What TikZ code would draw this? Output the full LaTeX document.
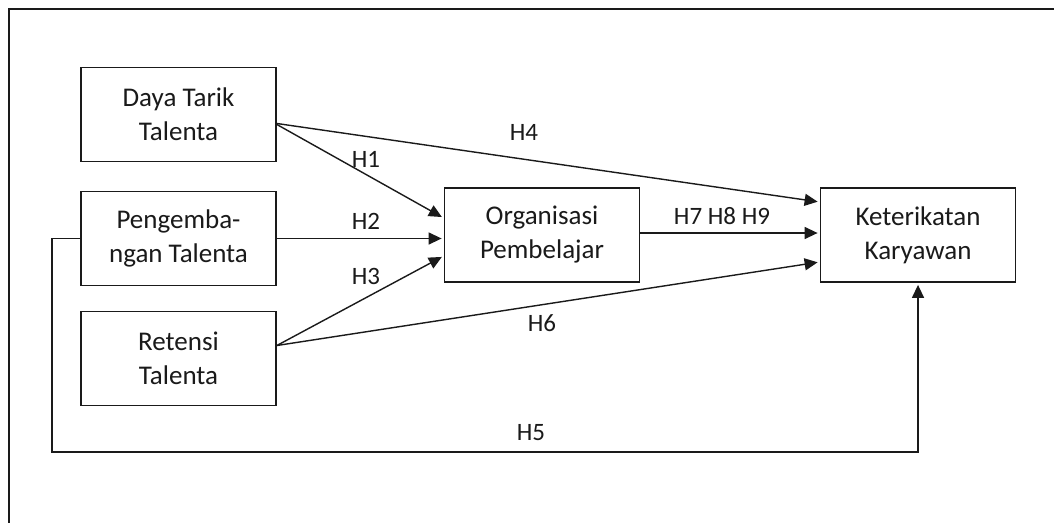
\documentclass[tikz,border=0pt]{standalone}
\usepackage{fontspec}
\setmainfont{Carlito}
\usetikzlibrary{arrows.meta,calc}
\definecolor{ink}{HTML}{1A1A1A}
\tikzset{
  box/.style={draw=ink, line width=1.8pt, minimum width=195pt, minimum height=94pt, inner sep=0pt, align=center, font=\fontsize{27}{34}\selectfont, text=ink},
  conn/.style={draw=ink, line width=1.4pt, -{Triangle[length=13pt,width=12pt]}, shorten >=2pt},
  hlab/.style={font=\fontsize{25}{30}\selectfont, text=ink, inner sep=0pt},
}
\begin{document}
\begin{tikzpicture}[x=1pt,y=-1pt]
\useasboundingbox (0,0) rectangle (1054,522);
\clip (0,0) rectangle (1054,522);
\fill[white] (0,0) rectangle (1054,522);
\draw[ink, line width=2.4pt] (9,560) -- (9,9) -- (1100,9);

\node[box] (daya) at (178.5,114.5) {Daya Tarik\\Talenta};
\node[box] (peng) at (178.5,238.5) {Pengemba-\\ngan Talenta};
\node[box] (ret)  at (178.5,358.5) {Retensi\\Talenta};
\node[box] (org)  at (542,235) {Organisasi\\Pembelajar};
\node[box] (ket)  at (918,235) {Keterikatan\\Karyawan};

\coordinate (h5a) at (52,452);

\draw[conn] ([yshift=-9pt]daya.east) -- ([yshift=33pt]ket.west);
\draw[conn] ([yshift=-10pt]daya.east) -- ([yshift=17pt]org.west);
\draw[conn] (peng.east) -- (peng.east -| org.west);
\draw[conn] ([yshift=13pt]ret.west -| ret.east) -- ([yshift=-21pt]org.west);
\draw[conn] ([yshift=13pt]ret.west -| ret.east) -- ([yshift=-27pt]ket.west);
\draw[conn] ([yshift=2pt]org.east) -- ([yshift=2pt]ket.west);
\draw[conn] (peng.west) -- (peng.west -| h5a) -- (h5a) -- (h5a -| ket.south) -- (ket.south);

\node[hlab] (l4) at (524,132) {H4};
\node[hlab] (l1) at (366,159) {H1};
\node[hlab] (l2) at (366,221) {H2};
\node[hlab] (l3) at (366,276) {H3};
\node[hlab] (l789) at (722,216) {H7 H8 H9};
\node[hlab] (l6) at (542,323) {H6};
\node[hlab] (l5) at (531,433) {H5};
\end{tikzpicture}
\end{document}
